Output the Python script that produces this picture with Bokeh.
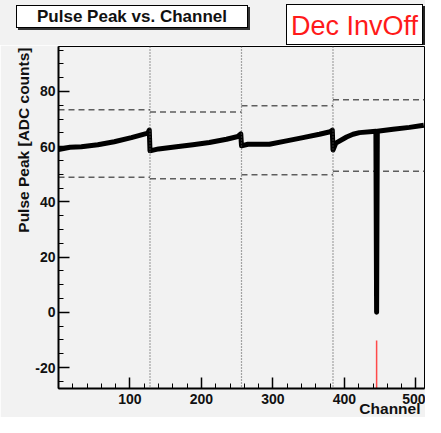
from bokeh.plotting import figure
from bokeh.layouts import column
from bokeh.models import Range1d, FixedTicker, Span, Title, Div
from bokeh.embed import file_html
from bokeh.resources import INLINE

# ---- data ----
channels = [0, 16, 32, 55, 78, 102, 125, 127, 128, 140, 165, 188, 211, 235, 251, 255,
            256, 265, 295, 319, 342, 365, 380, 383, 384, 388, 403, 412, 421, 444, 445,
            446, 468, 491, 511]
pulse_peak = [59.0, 59.8, 60.0, 60.7, 61.8, 63.3, 64.9, 66.0, 58.5, 59.2, 60.0, 60.7,
              61.5, 62.7, 63.7, 64.6, 60.3, 60.9, 60.9, 62.1, 63.3, 64.5, 65.4, 66.0,
              58.8, 61.3, 63.5, 64.5, 65.1, 65.6, 0.0, 65.6, 66.3, 67.0, 67.8]
seg_start = [0, 128, 256, 384]
seg_end = [128, 256, 384, 512]
upper_limit = [73.4, 72.6, 74.8, 77.0]
lower_limit = [48.9, 48.4, 49.8, 51.1]
boundaries = [128, 256, 384]
red_channel = [445]
red_value = [-10.2]
x_ticks = [100, 200, 300, 400, 500]
y_ticks = [-20, 0, 20, 40, 60, 80]
title_text = "Pulse Peak vs. Channel"
tag_text = "Dec InvOff"
x_title = "Channel"
y_title = "Pulse Peak [ADC counts]"

X0, X1 = 0, 512
Y0, Y1 = -27.6, 96.3

W = 425
HEADER_H = 45
H = 417 - HEADER_H
BG = "#f2f2f2"
FONT = "Liberation Sans"

header_html = f"""
<div style="position:relative;width:{W}px;height:{HEADER_H}px;background:{BG};
 font-family:'Liberation Sans',Arial,sans-serif;overflow:hidden;">
 <div style="position:absolute;left:16px;top:5px;width:232px;height:23px;box-sizing:border-box;
  border:1px solid #000;background:#fff;box-shadow:2px 2px 0 #333;"></div>
 <div style="position:absolute;left:16px;top:8px;width:232px;text-align:center;font-weight:bold;
  font-size:17px;line-height:17px;color:#111;white-space:nowrap;">{title_text}</div>
 <div style="position:absolute;left:286px;top:4px;width:137px;height:41px;box-sizing:border-box;
  border:1px solid #000;background:#fff;box-shadow:2px 2px 0 #222;"></div>
 <div style="position:absolute;left:286px;top:13px;width:137px;text-align:center;
  font-size:27px;line-height:27px;color:#ff1a1a;white-space:nowrap;">{tag_text}</div>
</div>
"""
header = Div(text=header_html, width=W, height=HEADER_H, margin=(0, 0, 0, 0),
             styles={"background-color": BG})

p = figure(width=W, height=H, x_range=Range1d(X0, X1), y_range=Range1d(Y0, Y1),
           output_backend="svg", toolbar_location=None, title=None,
           min_border_left=58, min_border_right=1, min_border_top=1, min_border_bottom=29,
           background_fill_color=BG, border_fill_color=BG, margin=(0, 0, 0, 0))
p.grid.visible = False
p.outline_line_color = "black"
p.outline_line_width = 1

for ax, ticks, minor in ((p.xaxis[0], x_ticks, list(range(0, 513, 20))),
                         (p.yaxis[0], y_ticks, list(range(-25, 97, 5)))):
    ax.ticker = FixedTicker(ticks=ticks, minor_ticks=minor)
    ax.axis_line_width = 2
    ax.axis_line_color = "black"
    ax.major_tick_in = 11
    ax.major_tick_out = 0
    ax.minor_tick_in = 5
    ax.minor_tick_out = 0
    ax.major_tick_line_width = 1.5
    ax.minor_tick_line_width = 1
    ax.major_label_text_font = FONT
    ax.major_label_text_font_style = "bold"
    ax.major_label_text_font_size = "14px"
    ax.major_label_text_color = "#111111"
    ax.major_label_overrides = {t: str(t) for t in ticks}
p.xaxis.major_label_standoff = 5
p.yaxis.major_label_standoff = 3

# axis titles in the side panels (ROOT style: at the far end of each axis)
p.add_layout(Title(text=y_title, align="right", vertical_align="bottom", offset=1, standoff=1,
                   text_font=FONT, text_font_style="bold", text_font_size="15.5px",
                   text_color="#111111"), "left")
p.add_layout(Title(text=x_title, align="right", vertical_align="top", offset=4, standoff=-13,
                   text_font=FONT, text_font_style="bold", text_font_size="15.5px",
                   text_color="#111111"), "below")

# vertical dotted boundaries
for b in boundaries:
    p.add_layout(Span(location=b, dimension="height", line_color="#555555",
                      line_width=1.2, line_dash="1 2"))

# dashed limits
p.segment(x0=seg_start, x1=seg_end, y0=upper_limit, y1=upper_limit,
          line_color="#5e5e5e", line_width=1.5, line_dash="6 4")
p.segment(x0=seg_start, x1=seg_end, y0=lower_limit, y1=lower_limit,
          line_color="#5e5e5e", line_width=1.5, line_dash="6 4")

# red line
p.segment(x0=red_channel, x1=red_channel, y0=red_value, y1=[Y0] * len(red_value),
          line_color="#ff4a4a", line_width=1.5)

# data
p.line(channels, pulse_peak, line_color="black", line_width=5, line_join="round")

layout = column(header, p, spacing=0)
open("out.html", "w").write(file_html(layout, INLINE))
